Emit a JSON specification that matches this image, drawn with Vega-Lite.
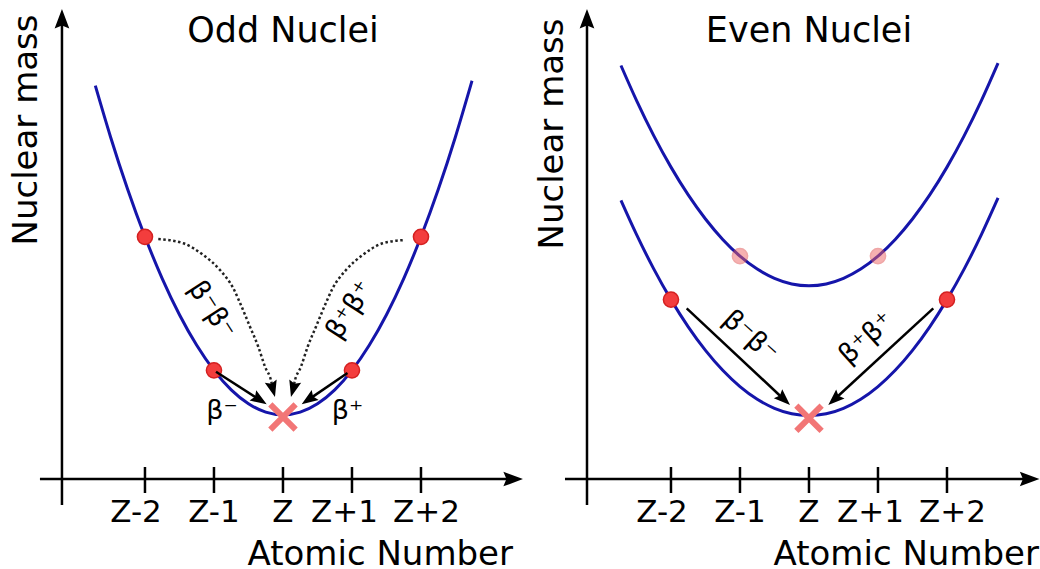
{
  "$schema": "https://vega.github.io/schema/vega-lite/v6.json",
  "padding": 0,
  "spacing": 0,
  "bounds": "flush",
  "background": "white",
  "config": {"view": {"stroke": null}, "text": {"font": "DejaVu Sans", "color": "black"}},
  "datasets": {
    "oddCurves": [
      {"curve": "odd", "Z": -2.72, "mass": 5.702}, {"curve": "odd", "Z": -2.5, "mass": 4.961}, {"curve": "odd", "Z": -2.25, "mass": 4.195},
      {"curve": "odd", "Z": -2, "mass": 3.51}, {"curve": "odd", "Z": -1.75, "mass": 2.905}, {"curve": "odd", "Z": -1.5, "mass": 2.381},
      {"curve": "odd", "Z": -1.25, "mass": 1.938}, {"curve": "odd", "Z": -1, "mass": 1.575}, {"curve": "odd", "Z": -0.75, "mass": 1.293},
      {"curve": "odd", "Z": -0.5, "mass": 1.091}, {"curve": "odd", "Z": -0.25, "mass": 0.97}, {"curve": "odd", "Z": 0, "mass": 0.93},
      {"curve": "odd", "Z": 0.25, "mass": 0.97}, {"curve": "odd", "Z": 0.5, "mass": 1.091}, {"curve": "odd", "Z": 0.75, "mass": 1.293},
      {"curve": "odd", "Z": 1, "mass": 1.575}, {"curve": "odd", "Z": 1.25, "mass": 1.938}, {"curve": "odd", "Z": 1.5, "mass": 2.381},
      {"curve": "odd", "Z": 1.75, "mass": 2.905}, {"curve": "odd", "Z": 2, "mass": 3.51}, {"curve": "odd", "Z": 2.25, "mass": 4.195},
      {"curve": "odd", "Z": 2.5, "mass": 4.961}, {"curve": "odd", "Z": 2.74, "mass": 5.772}
    ],
    "evenCurves": [
      {"curve": "odd-odd", "Z": -2.725, "mass": 5.993}, {"curve": "odd-odd", "Z": -2.5, "mass": 5.488}, {"curve": "odd-odd", "Z": -2.25, "mass": 4.977},
      {"curve": "odd-odd", "Z": -2, "mass": 4.52}, {"curve": "odd-odd", "Z": -1.75, "mass": 4.117}, {"curve": "odd-odd", "Z": -1.5, "mass": 3.768},
      {"curve": "odd-odd", "Z": -1.25, "mass": 3.472}, {"curve": "odd-odd", "Z": -1, "mass": 3.23}, {"curve": "odd-odd", "Z": -0.75, "mass": 3.042},
      {"curve": "odd-odd", "Z": -0.5, "mass": 2.908}, {"curve": "odd-odd", "Z": -0.25, "mass": 2.827}, {"curve": "odd-odd", "Z": 0, "mass": 2.8},
      {"curve": "odd-odd", "Z": 0.25, "mass": 2.827}, {"curve": "odd-odd", "Z": 0.5, "mass": 2.908}, {"curve": "odd-odd", "Z": 0.75, "mass": 3.042},
      {"curve": "odd-odd", "Z": 1, "mass": 3.23}, {"curve": "odd-odd", "Z": 1.25, "mass": 3.472}, {"curve": "odd-odd", "Z": 1.5, "mass": 3.768},
      {"curve": "odd-odd", "Z": 1.75, "mass": 4.117}, {"curve": "odd-odd", "Z": 2, "mass": 4.52}, {"curve": "odd-odd", "Z": 2.25, "mass": 4.977},
      {"curve": "odd-odd", "Z": 2.5, "mass": 5.488}, {"curve": "odd-odd", "Z": 2.74, "mass": 6.028},
      {"curve": "even-even", "Z": -2.725, "mass": 4.039}, {"curve": "even-even", "Z": -2.5, "mass": 3.545}, {"curve": "even-even", "Z": -2.25, "mass": 3.046},
      {"curve": "even-even", "Z": -2, "mass": 2.6}, {"curve": "even-even", "Z": -1.75, "mass": 2.206}, {"curve": "even-even", "Z": -1.5, "mass": 1.865},
      {"curve": "even-even", "Z": -1.25, "mass": 1.576}, {"curve": "even-even", "Z": -1, "mass": 1.34}, {"curve": "even-even", "Z": -0.75, "mass": 1.156},
      {"curve": "even-even", "Z": -0.5, "mass": 1.025}, {"curve": "even-even", "Z": -0.25, "mass": 0.946}, {"curve": "even-even", "Z": 0, "mass": 0.92},
      {"curve": "even-even", "Z": 0.25, "mass": 0.946}, {"curve": "even-even", "Z": 0.5, "mass": 1.025}, {"curve": "even-even", "Z": 0.75, "mass": 1.156},
      {"curve": "even-even", "Z": 1, "mass": 1.34}, {"curve": "even-even", "Z": 1.25, "mass": 1.576}, {"curve": "even-even", "Z": 1.5, "mass": 1.865},
      {"curve": "even-even", "Z": 1.75, "mass": 2.206}, {"curve": "even-even", "Z": 2, "mass": 2.6}, {"curve": "even-even", "Z": 2.25, "mass": 3.046},
      {"curve": "even-even", "Z": 2.5, "mass": 3.545}, {"curve": "even-even", "Z": 2.74, "mass": 4.073}
    ],
    "oddPoints": [
      {"kind": "unstable", "Z": -2, "mass": 3.51}, {"kind": "unstable", "Z": -1, "mass": 1.575},
      {"kind": "unstable", "Z": 1, "mass": 1.575}, {"kind": "unstable", "Z": 2, "mass": 3.51}
    ],
    "evenPoints": [
      {"kind": "unstable", "Z": -2, "mass": 2.6}, {"kind": "unstable", "Z": 2, "mass": 2.6},
      {"kind": "odd-odd", "Z": -1, "mass": 3.23}, {"kind": "odd-odd", "Z": 1, "mass": 3.23}
    ],
    "oddStable": [{"Z": 0, "mass": 0.9}],
    "evenStable": [{"Z": 0, "mass": 0.88}],
    "oddArrows": [
      {"decay": "β-", "Z": -0.971, "mass": 1.555, "Z2": -0.358, "mass2": 1.161},
      {"decay": "β+", "Z": 0.935, "mass": 1.536, "Z2": 0.391, "mass2": 1.165}
    ],
    "evenArrows": [
      {"decay": "β-β-", "Z": -1.772, "mass": 2.474, "Z2": -0.381, "mass2": 1.171},
      {"decay": "β+β+", "Z": 1.801, "mass": 2.474, "Z2": 0.387, "mass2": 1.171}
    ],
    "oddDotted": [
      {"decay": "β-β-", "Z": -1.807, "mass": 3.478}, {"decay": "β-β-", "Z": -1.445, "mass": 3.416}, {"decay": "β-β-", "Z": -1.155, "mass": 3.246},
      {"decay": "β-β-", "Z": -0.913, "mass": 3.029}, {"decay": "β-β-", "Z": -0.72, "mass": 2.764}, {"decay": "β-β-", "Z": -0.599, "mass": 2.497},
      {"decay": "β-β-", "Z": -0.478, "mass": 2.207}, {"decay": "β-β-", "Z": -0.358, "mass": 1.917}, {"decay": "β-β-", "Z": -0.261, "mass": 1.628},
      {"decay": "β-β-", "Z": -0.164, "mass": 1.387}, {"decay": "β-β-", "Z": -0.148, "mass": 1.3},
      {"decay": "β+β+", "Z": 1.77, "mass": 3.464}, {"decay": "β+β+", "Z": 1.445, "mass": 3.416}, {"decay": "β+β+", "Z": 1.155, "mass": 3.246},
      {"decay": "β+β+", "Z": 0.913, "mass": 3.029}, {"decay": "β+β+", "Z": 0.72, "mass": 2.764}, {"decay": "β+β+", "Z": 0.599, "mass": 2.497},
      {"decay": "β+β+", "Z": 0.478, "mass": 2.207}, {"decay": "β+β+", "Z": 0.358, "mass": 1.917}, {"decay": "β+β+", "Z": 0.261, "mass": 1.628},
      {"decay": "β+β+", "Z": 0.164, "mass": 1.387}, {"decay": "β+β+", "Z": 0.148, "mass": 1.3}
    ],
    "oddHeads": [
      {"Z": -0.236, "mass": 1.083, "angle": 122.7}, {"Z": 0.271, "mass": 1.083, "angle": 235.5},
      {"Z": -0.116, "mass": 1.188, "angle": 165}, {"Z": 0.116, "mass": 1.188, "angle": 195}
    ],
    "evenHeads": [
      {"Z": -0.275, "mass": 1.072, "angle": 133.1}, {"Z": 0.28, "mass": 1.072, "angle": 227.3}
    ],
    "oddAxes": [
      {"part": "x-axis", "Z": -3.522, "mass": 0, "Z2": 3.36, "mass2": 0},
      {"part": "y-axis", "Z": -3.203, "mass": -0.377, "Z2": -3.203, "mass2": 6.62},
      {"part": "tick", "Z": -2, "mass": -0.203, "Z2": -2, "mass2": 0.174},
      {"part": "tick", "Z": -1, "mass": -0.203, "Z2": -1, "mass2": 0.174},
      {"part": "tick", "Z": 0, "mass": -0.203, "Z2": 0, "mass2": 0.174},
      {"part": "tick", "Z": 1, "mass": -0.203, "Z2": 1, "mass2": 0.174},
      {"part": "tick", "Z": 2, "mass": -0.203, "Z2": 2, "mass2": 0.174}
    ],
    "evenAxes": [
      {"part": "x-axis", "Z": -3.536, "mass": 0, "Z2": 3.2, "mass2": 0},
      {"part": "y-axis", "Z": -3.217, "mass": -0.377, "Z2": -3.217, "mass2": 6.62},
      {"part": "tick", "Z": -2, "mass": -0.203, "Z2": -2, "mass2": 0.174},
      {"part": "tick", "Z": -1, "mass": -0.203, "Z2": -1, "mass2": 0.174},
      {"part": "tick", "Z": 0, "mass": -0.203, "Z2": 0, "mass2": 0.174},
      {"part": "tick", "Z": 1, "mass": -0.203, "Z2": 1, "mass2": 0.174},
      {"part": "tick", "Z": 2, "mass": -0.203, "Z2": 2, "mass2": 0.174}
    ],
    "oddAxisHeads": [{"Z": 3.478, "mass": 0, "angle": 90}, {"Z": -3.203, "mass": 6.812, "angle": 0}],
    "evenAxisHeads": [{"Z": 3.34, "mass": 0, "angle": 90}, {"Z": -3.217, "mass": 6.812, "angle": 0}],
    "oddText": [
      {"role": "tick", "text": "Z-2", "Z": -2.13, "mass": -0.619},
      {"role": "tick", "text": "Z-1", "Z": -1.0, "mass": -0.619},
      {"role": "tick", "text": "Z", "Z": 0, "mass": -0.619},
      {"role": "tick", "text": "Z+1", "Z": 0.89, "mass": -0.619},
      {"role": "tick", "text": "Z+2", "Z": 2.08, "mass": -0.619},
      {"role": "title", "text": "Odd Nuclei", "Z": 0, "mass": 6.335},
      {"role": "xtitle", "text": "Atomic Number", "Z": 1.41, "mass": -1.25},
      {"role": "ytitle", "text": "Nuclear mass", "Z": -3.565, "mass": 5.058},
      {"role": "beta", "text": "β⁻β⁻", "Z": -1.033, "mass": 2.449, "angle": 57},
      {"role": "beta", "text": "β⁺β⁺", "Z": 0.971, "mass": 2.449, "angle": -57},
      {"role": "beta", "text": "β⁻", "Z": -0.884, "mass": 0.986, "angle": 0},
      {"role": "beta", "text": "β⁺", "Z": 0.935, "mass": 0.986, "angle": 0}
    ],
    "evenText": [
      {"role": "tick", "text": "Z-2", "Z": -2.13, "mass": -0.619},
      {"role": "tick", "text": "Z-1", "Z": -1.0, "mass": -0.619},
      {"role": "tick", "text": "Z", "Z": 0, "mass": -0.619},
      {"role": "tick", "text": "Z+1", "Z": 0.89, "mass": -0.619},
      {"role": "tick", "text": "Z+2", "Z": 2.08, "mass": -0.619},
      {"role": "title", "text": "Even Nuclei", "Z": 0, "mass": 6.335},
      {"role": "xtitle", "text": "Atomic Number", "Z": 1.41, "mass": -1.25},
      {"role": "ytitle", "text": "Nuclear mass", "Z": -3.563, "mass": 5.0},
      {"role": "beta", "text": "β⁻β⁻", "Z": -0.855, "mass": 2.062, "angle": 42},
      {"role": "beta", "text": "β⁺β⁺", "Z": 0.836, "mass": 2.039, "angle": -42}
    ]
  },
  "hconcat": [
    {
      "width": 526,
      "height": 569,
      "encoding": {
        "x": {"field": "Z", "type": "quantitative", "scale": {"domain": [-4.101, 3.522], "nice": false, "zero": false}, "axis": null},
        "y": {"field": "mass", "type": "quantitative", "scale": {"domain": [-1.304, 6.942], "nice": false, "zero": false}, "axis": null}
      },
      "layer": [
        {"data": {"name": "oddAxes"}, "mark": {"type": "rule", "color": "black", "strokeWidth": 2.5},
         "encoding": {"x2": {"field": "Z2"}, "y2": {"field": "mass2"}}},
        {"data": {"name": "oddAxisHeads"}, "mark": {"type": "point", "shape": "M0,0L-0.6,1.6L0,1.35L0.6,1.6Z", "filled": true, "color": "black", "opacity": 1, "size": 600},
         "encoding": {"angle": {"field": "angle", "type": "quantitative", "scale": null}}},
        {"data": {"name": "oddCurves"}, "mark": {"type": "line", "interpolate": "natural", "color": "#1515aa", "strokeWidth": 3},
         "encoding": {"detail": {"field": "curve"}}},
        {"data": {"name": "oddDotted"}, "mark": {"type": "line", "interpolate": "monotone", "color": "#222222", "strokeWidth": 2.5, "strokeDash": [2.5, 2.5]},
         "encoding": {"detail": {"field": "decay"}}},
        {"data": {"name": "oddPoints"}, "mark": {"type": "circle", "size": 230, "fill": "#f33d3d", "stroke": "#d42020", "strokeWidth": 1.5, "opacity": 1}},
        {"data": {"name": "oddArrows"}, "mark": {"type": "rule", "color": "black", "strokeWidth": 2.5},
         "encoding": {"x2": {"field": "Z2"}, "y2": {"field": "mass2"}}},
        {"data": {"name": "oddHeads"}, "mark": {"type": "point", "shape": "M0,0L-0.6,1.6L0,1.35L0.6,1.6Z", "filled": true, "color": "black", "opacity": 1, "size": 420},
         "encoding": {"angle": {"field": "angle", "type": "quantitative", "scale": null}}},
        {"data": {"name": "oddStable"}, "mark": {"type": "point", "shape": "M-1,-1L1,1M-1,1L1,-1", "filled": false, "stroke": "#f27676", "strokeWidth": 6, "opacity": 1, "size": 640}},
        {"data": {"name": "oddText"}, "transform": [{"filter": "datum.role === 'tick'"}],
         "mark": {"type": "text", "fontSize": 31, "align": "center", "baseline": "alphabetic"}, "encoding": {"text": {"field": "text"}}},
        {"data": {"name": "oddText"}, "transform": [{"filter": "datum.role === 'title'"}],
         "mark": {"type": "text", "fontSize": 35, "align": "center", "baseline": "alphabetic"}, "encoding": {"text": {"field": "text"}}},
        {"data": {"name": "oddText"}, "transform": [{"filter": "datum.role === 'xtitle'"}],
         "mark": {"type": "text", "fontSize": 34, "align": "center", "baseline": "alphabetic"}, "encoding": {"text": {"field": "text"}}},
        {"data": {"name": "oddText"}, "transform": [{"filter": "datum.role === 'ytitle'"}],
         "mark": {"type": "text", "fontSize": 34, "align": "center", "baseline": "alphabetic", "angle": -90}, "encoding": {"text": {"field": "text"}}},
        {"data": {"name": "oddText"}, "transform": [{"filter": "datum.role === 'beta'"}],
         "mark": {"type": "text", "fontSize": 27, "align": "center", "baseline": "middle"},
         "encoding": {"text": {"field": "text"}, "angle": {"field": "angle", "type": "quantitative", "scale": null}}}
      ]
    },
    {
      "width": 514,
      "height": 569,
      "encoding": {
        "x": {"field": "Z", "type": "quantitative", "scale": {"domain": [-4.101, 3.348], "nice": false, "zero": false}, "axis": null},
        "y": {"field": "mass", "type": "quantitative", "scale": {"domain": [-1.304, 6.942], "nice": false, "zero": false}, "axis": null}
      },
      "layer": [
        {"data": {"name": "evenAxes"}, "mark": {"type": "rule", "color": "black", "strokeWidth": 2.5},
         "encoding": {"x2": {"field": "Z2"}, "y2": {"field": "mass2"}}},
        {"data": {"name": "evenAxisHeads"}, "mark": {"type": "point", "shape": "M0,0L-0.6,1.6L0,1.35L0.6,1.6Z", "filled": true, "color": "black", "opacity": 1, "size": 600},
         "encoding": {"angle": {"field": "angle", "type": "quantitative", "scale": null}}},
        {"data": {"name": "evenCurves"}, "mark": {"type": "line", "interpolate": "natural", "color": "#1515aa", "strokeWidth": 3},
         "encoding": {"detail": {"field": "curve"}}},
        {"data": {"name": "evenPoints"}, "transform": [{"filter": "datum.kind === 'odd-odd'"}],
         "mark": {"type": "circle", "size": 230, "fill": "#ee6666", "stroke": "#e05050", "strokeWidth": 1.5, "opacity": 0.5}},
        {"data": {"name": "evenPoints"}, "transform": [{"filter": "datum.kind === 'unstable'"}],
         "mark": {"type": "circle", "size": 230, "fill": "#f33d3d", "stroke": "#d42020", "strokeWidth": 1.5, "opacity": 1}},
        {"data": {"name": "evenArrows"}, "mark": {"type": "rule", "color": "black", "strokeWidth": 2.5},
         "encoding": {"x2": {"field": "Z2"}, "y2": {"field": "mass2"}}},
        {"data": {"name": "evenHeads"}, "mark": {"type": "point", "shape": "M0,0L-0.6,1.6L0,1.35L0.6,1.6Z", "filled": true, "color": "black", "opacity": 1, "size": 420},
         "encoding": {"angle": {"field": "angle", "type": "quantitative", "scale": null}}},
        {"data": {"name": "evenStable"}, "mark": {"type": "point", "shape": "M-1,-1L1,1M-1,1L1,-1", "filled": false, "stroke": "#f27676", "strokeWidth": 6, "opacity": 1, "size": 640}},
        {"data": {"name": "evenText"}, "transform": [{"filter": "datum.role === 'tick'"}],
         "mark": {"type": "text", "fontSize": 31, "align": "center", "baseline": "alphabetic"}, "encoding": {"text": {"field": "text"}}},
        {"data": {"name": "evenText"}, "transform": [{"filter": "datum.role === 'title'"}],
         "mark": {"type": "text", "fontSize": 35, "align": "center", "baseline": "alphabetic"}, "encoding": {"text": {"field": "text"}}},
        {"data": {"name": "evenText"}, "transform": [{"filter": "datum.role === 'xtitle'"}],
         "mark": {"type": "text", "fontSize": 34, "align": "center", "baseline": "alphabetic"}, "encoding": {"text": {"field": "text"}}},
        {"data": {"name": "evenText"}, "transform": [{"filter": "datum.role === 'ytitle'"}],
         "mark": {"type": "text", "fontSize": 34, "align": "center", "baseline": "alphabetic", "angle": -90}, "encoding": {"text": {"field": "text"}}},
        {"data": {"name": "evenText"}, "transform": [{"filter": "datum.role === 'beta'"}],
         "mark": {"type": "text", "fontSize": 27, "align": "center", "baseline": "middle"},
         "encoding": {"text": {"field": "text"}, "angle": {"field": "angle", "type": "quantitative", "scale": null}}}
      ]
    }
  ]
}
